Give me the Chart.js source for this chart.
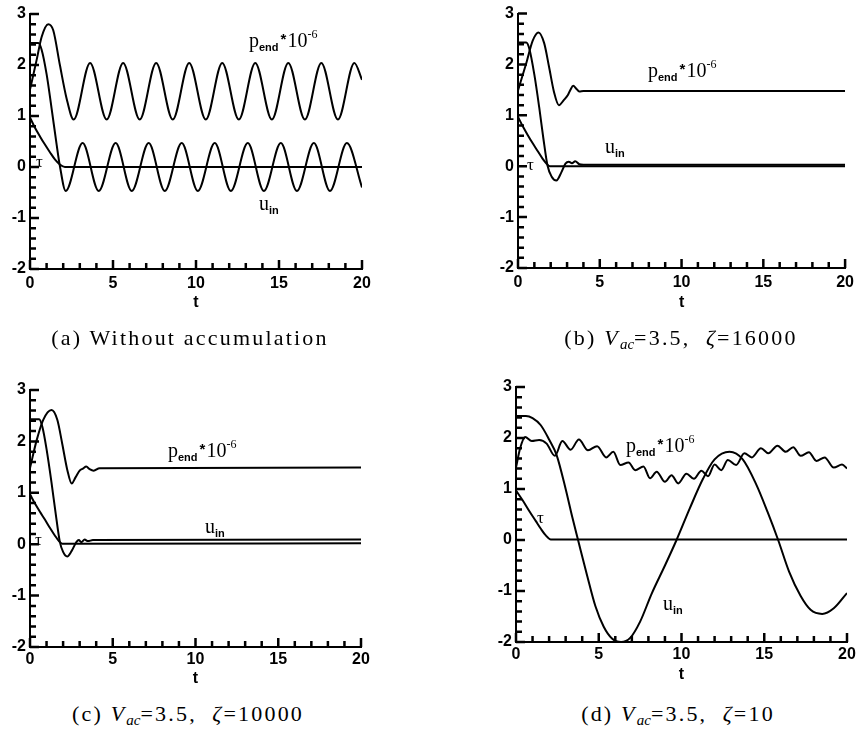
<!DOCTYPE html>
<html lang="en">
<head>
<meta charset="UTF-8">
<title>Transient response of p_end, u_in and tau</title>
<script src="https://cdn.jsdelivr.net/npm/chart.js@4.4.1/dist/chart.umd.min.js"></script>
<style>
  body { margin: 0; background: #fff; width: 859px; height: 731px; position: relative; overflow: hidden; }
  canvas { position: absolute; }
  .lbl { position: absolute; font-family: 'Liberation Serif', serif; font-size: 20px; line-height: 1; white-space: nowrap; color: #000; }
  .lbl sub, .lbl sup { vertical-align: baseline; position: relative; }
  .lbl sub { font-family: 'Liberation Sans', sans-serif; font-weight: bold; font-size: 11px; top: 4px; }
  .lbl sup { font-size: 12px; top: -9px; }
  .lbl .ast { font-family: 'Liberation Sans', sans-serif; font-weight: bold; font-size: 15px; position: relative; top: -3px; margin: 0 1px 0 2px; }
  .tau { font-size: 17px; }
  .cap { position: absolute; width: 400px; text-align: center; font-family: 'Liberation Serif', serif; font-size: 22px; line-height: 1; white-space: nowrap; letter-spacing: 2.2px; }
  .cap sub { font-size: 15px; vertical-align: baseline; position: relative; top: 4px; letter-spacing: 0; }
</style>
</head>
<body>
<canvas id="pa" width="430" height="312" style="left:0px;top:0px"></canvas>
<canvas id="pb" width="429" height="312" style="left:430px;top:0px"></canvas>
<canvas id="pc" width="430" height="318" style="left:0px;top:370px"></canvas>
<canvas id="pd" width="429" height="314" style="left:430px;top:370px"></canvas>

<div class="lbl" style="left:249px;top:30px">p<sub>end</sub><span class="ast">*</span>10<sup>-6</sup></div>
<div class="lbl" style="left:259px;top:193px">u<sub>in</sub></div>
<div class="lbl tau" style="left:36px;top:153px">τ</div>

<div class="lbl" style="left:648px;top:60px">p<sub>end</sub><span class="ast">*</span>10<sup>-6</sup></div>
<div class="lbl" style="left:605px;top:136px">u<sub>in</sub></div>
<div class="lbl tau" style="left:527px;top:156px">τ</div>

<div class="lbl" style="left:168px;top:440px">p<sub>end</sub><span class="ast">*</span>10<sup>-6</sup></div>
<div class="lbl" style="left:205px;top:516px">u<sub>in</sub></div>
<div class="lbl tau" style="left:35px;top:531px">τ</div>

<div class="lbl" style="left:626px;top:435px">p<sub>end</sub><span class="ast">*</span>10<sup>-6</sup></div>
<div class="lbl" style="left:663px;top:593px">u<sub>in</sub></div>
<div class="lbl tau" style="left:537px;top:509px">τ</div>

<div class="cap" style="left:-10px;top:327px">(a) Without accumulation</div>
<div class="cap" style="left:481px;top:327px">(b) <i>V</i><sub><i>ac</i></sub>=3.5,&nbsp; <i>ζ</i>=16000</div>
<div class="cap" style="left:-12px;top:703px">(c) <i>V</i><sub><i>ac</i></sub>=3.5,&nbsp; <i>ζ</i>=10000</div>
<div class="cap" style="left:478px;top:703px">(d) <i>V</i><sub><i>ac</i></sub>=3.5,&nbsp; <i>ζ</i>=10</div>

<script>
  // [t, value] pairs
  // (a) without accumulation
  const aTau = [[0,0.97],[0.3,0.77],[0.6,0.6],[0.9,0.44],[1.2,0.29],[1.5,0.15],[1.8,0.05],[2.1,0],[20,0]];
  const aPend = [[0,1.52],[0.4,2.1],[0.7,2.55],[1.1,2.8],[1.4,2.68],[1.8,2.0],[2.2,1.35],[2.63,0.93],
    [3.62,2.04],[4.62,0.93],[5.61,2.04],[6.61,0.93],[7.6,2.04],[8.6,0.93],[9.59,2.04],[10.59,0.93],
    [11.58,2.04],[12.58,0.93],[13.57,2.04],[14.57,0.93],[15.56,2.04],[16.56,0.93],[17.55,2.04],
    [18.55,0.93],[19.54,2.04],[20,1.71]];
  const aUin = [[0,2.43],[0.5,2.43],[0.7,2.3],[1.0,1.82],[1.3,1.15],[1.6,0.45],[1.8,0.02],[2.15,-0.47],
    [3.17,0.47],[4.14,-0.47],[5.16,0.47],[6.13,-0.47],[7.15,0.47],[8.12,-0.47],[9.14,0.47],[10.11,-0.47],
    [11.13,0.47],[12.1,-0.47],[13.12,0.47],[14.09,-0.47],[15.11,0.47],[16.08,-0.47],[17.1,0.47],
    [18.07,-0.47],[19.09,0.47],[20,-0.4]];

  // (b) Vac=3.5, zeta=16000
  const bTau = [[0,0.97],[0.3,0.78],[0.6,0.61],[0.9,0.45],[1.2,0.3],[1.5,0.15],[1.75,0.05],[1.95,0],[20,0]];
  const bPend = [[0,1.49],[0.5,2.02],[0.9,2.47],[1.25,2.63],[1.6,2.42],[1.9,1.95],[2.2,1.46],[2.5,1.2],
    [2.8,1.3],[3.05,1.4],[3.2,1.5],[3.38,1.58],[3.55,1.53],[3.75,1.47],[4.0,1.48],[20,1.48]];
  const bUin = [[0,2.43],[0.5,2.43],[0.7,2.3],[1.0,1.8],[1.3,1.15],[1.55,0.55],[1.8,0.02],[2.05,-0.2],
    [2.35,-0.28],[2.65,-0.12],[2.9,0.05],[3.1,0.09],[3.3,0.06],[3.5,0.1],[3.75,0.04],[4.0,0.03],[20,0.03]];

  // (c) Vac=3.5, zeta=10000
  const cTau = [[0,0.97],[0.3,0.79],[0.6,0.63],[0.9,0.48],[1.2,0.32],[1.5,0.17],[1.75,0.06],[1.95,0.01],[20,0.02]];
  const cPend = [[0,1.48],[0.4,2.02],[0.8,2.42],[1.3,2.61],[1.65,2.42],[1.95,1.95],[2.25,1.45],[2.52,1.18],
    [2.75,1.3],[3.0,1.43],[3.2,1.47],[3.4,1.51],[3.6,1.46],[3.85,1.43],[4.2,1.48],[20,1.49]];
  const cUin = [[0,2.43],[0.55,2.43],[0.75,2.28],[1.0,1.85],[1.3,1.2],[1.55,0.6],[1.8,0.05],[2.0,-0.15],
    [2.25,-0.24],[2.5,-0.14],[2.8,0.04],[2.95,0.08],[3.1,0.04],[3.3,0.09],[3.5,0.06],[3.8,0.08],[20,0.09]];

  // (d) Vac=3.5, zeta=10
  const dTau = [[0,0.97],[0.4,0.78],[0.8,0.57],[1.2,0.37],[1.5,0.22],[1.8,0.09],[2.1,0.01],[20,0.01]];
  const dPend = [[0,1.42],[0.25,1.8],[0.55,2.02],[0.95,1.94],[1.4,1.96],[1.85,1.89],[2.35,1.65],[2.8,1.94],
    [3.3,1.77],[3.8,1.97],[4.35,1.76],[4.9,1.84],[5.45,1.62],[5.88,1.73],[6.3,1.47],[6.8,1.52],[7.2,1.37],
    [7.7,1.44],[8.1,1.21],[8.5,1.34],[9.0,1.14],[9.4,1.27],[9.8,1.11],[10.3,1.3],[10.75,1.2],[11.2,1.36],
    [11.6,1.25],[12.0,1.48],[12.4,1.37],[12.8,1.57],[13.3,1.47],[13.8,1.7],[14.25,1.62],[14.8,1.8],
    [15.25,1.7],[15.8,1.85],[16.3,1.73],[16.75,1.82],[17.2,1.65],[17.7,1.72],[18.15,1.55],[18.65,1.62],
    [19.2,1.42],[19.7,1.48],[20,1.4]];
  const dUin = [[0,2.43],[0.6,2.43],[1.0,2.39],[1.5,2.25],[2.0,1.97],[2.45,1.67],[3.0,1.0],[3.4,0.45],
    [3.75,0],[4.3,-0.7],[4.8,-1.3],[5.3,-1.7],[5.8,-1.93],[6.35,-2.0],[6.9,-1.92],[7.5,-1.6],[8.2,-1.05],
    [9.0,-0.5],[9.7,0],[10.5,0.62],[11.3,1.2],[12.0,1.58],[12.9,1.73],[13.7,1.58],[14.5,1.1],[15.2,0.55],
    [15.84,0],[16.5,-0.62],[17.2,-1.1],[17.8,-1.37],[18.5,-1.45],[19.2,-1.34],[20,-1.04]];

  const tLimits = [0, 20];
  const yLimits = [-2, 3];

  // inward major/minor ticks on the left and bottom axes
  const inwardTicks = {
    id: 'inwardTicks',
    afterDraw(chart) {
      const ctx = chart.ctx;
      const xs = chart.scales.x, ys = chart.scales.y;
      const area = chart.chartArea;
      ctx.save();
      ctx.strokeStyle = '#000';
      ctx.lineWidth = 2.5;
      ctx.beginPath();
      for (let i = 0; i <= 20; i++) {
        const px = xs.getPixelForValue(tLimits[0] + i);
        const len = i % 5 === 0 ? 9 : 6;
        ctx.moveTo(px, area.bottom);
        ctx.lineTo(px, area.bottom - len);
      }
      for (let i = 0; i <= 25; i++) {
        const py = ys.getPixelForValue(yLimits[0] + i * 0.2);
        const len = i % 5 === 0 ? 9 : 6;
        ctx.moveTo(area.left, py);
        ctx.lineTo(area.left + len, py);
      }
      ctx.stroke();
      ctx.restore();
    }
  };

  function curve(points) {
    return {
      data: points,
      borderColor: '#000',
      borderWidth: 2,
      pointRadius: 0,
      fill: false,
      cubicInterpolationMode: 'monotone'
    };
  }

  const tickFont = {family: "'Liberation Sans', Arial, sans-serif", size: 16, weight: 'bold'};

  function makePanel(id, series, box) {
    return new Chart(document.getElementById(id), {
      type: 'line',
      data: {datasets: series.map(s => curve(s))},
      plugins: [inwardTicks],
      options: {
        responsive: false,
        animation: false,
        layout: {padding: {left: box.padLeft, right: box.padRight, top: box.padTop, bottom: 0}},
        plugins: {legend: {display: false}, tooltip: {enabled: false}},
        scales: {
          x: {
            type: 'linear',
            min: tLimits[0], max: tLimits[1],
            afterFit: s => { s.height = box.axisH; },
            grid: {display: false, drawTicks: false},
            border: {display: true, color: '#000', width: 2},
            ticks: {stepSize: 5, color: '#000', font: tickFont, padding: box.labelPad, maxRotation: 0},
            title: {display: true, text: 't', color: '#000', font: tickFont, padding: 0}
          },
          y: {
            type: 'linear',
            min: yLimits[0], max: yLimits[1],
            afterFit: s => { s.width = 30; },
            grid: {display: false, drawTicks: false},
            border: {display: true, color: '#000', width: 2},
            ticks: {stepSize: 1, color: '#000', font: tickFont, padding: 4}
          }
        }
      }
    });
  }

  makePanel('pa', [aTau, aPend, aUin], {padLeft: 0, padRight: 68, padTop: 14, axisH: 43, labelPad: 5});
  makePanel('pb', [bTau, bPend, bUin], {padLeft: 58, padRight: 9, padTop: 13, axisH: 44, labelPad: 5});
  makePanel('pc', [cTau, cPend, cUin], {padLeft: 0, padRight: 69, padTop: 20, axisH: 41, labelPad: 3});
  makePanel('pd', [dTau, dPend, dUin], {padLeft: 56, padRight: 12, padTop: 17, axisH: 42, labelPad: 3});
</script>
</body>
</html>
